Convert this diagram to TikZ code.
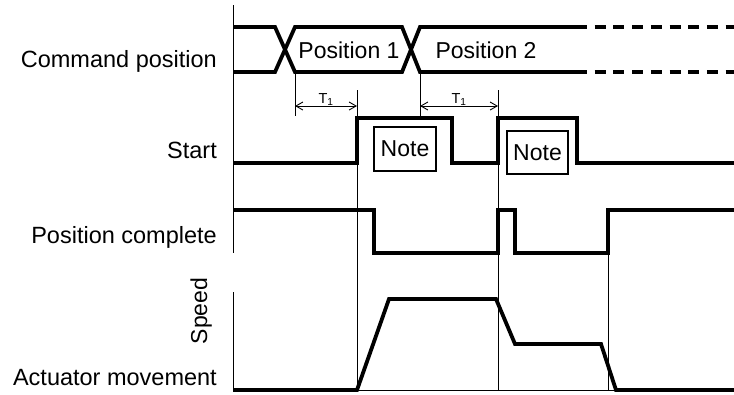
\documentclass[tikz,border=0pt]{standalone}
\usepackage{fontspec}
\setmainfont{Liberation Sans}
\usetikzlibrary{arrows.meta}
\tikzset{
  lab/.style={font=\fontsize{23.5}{28}\selectfont, anchor=base east, inner sep=0pt},
  txt/.style={font=\fontsize{23}{27}\selectfont, anchor=base, inner sep=0pt},
  sig/.style={line width=3.8pt, line cap=butt, line join=miter},
  sigdash/.style={line width=3.4pt, dash pattern=on 11pt off 7.7pt},
  guide/.style={line width=0.9pt},
  notebox/.style={draw, line width=1.2pt, minimum width=62pt, minimum height=44pt,
                  inner sep=0pt, font=\fontsize{23}{27}\selectfont},
  dim/.style={{Straight Barb[length=7pt,width=8pt]}-{Straight Barb[length=7pt,width=8pt]},
              line width=0.9pt},
  tlab/.style={font=\fontsize{14.5}{17}\selectfont, anchor=base, inner sep=0pt, yshift=3pt}
}
\begin{document}
\begin{tikzpicture}[x=1pt, y=-1pt]
  \useasboundingbox (0,0) rectangle (734,394);
  \node[lab] (cmd) at (217,67) {Command position};
  \node[lab] (start) at (217,158) {Start};
  \node[lab] (pcomp) at (217,243) {Position complete};
  \node[lab] (act) at (217,385) {Actuator movement};
  \node[txt, rotate=90] (speed) at (207,311) {Speed};
  \draw[guide] (233,5) -- (233,253);
  \draw[guide] (233,292) -- (233,390) -- (734,390);
  \draw[sig] (233,27) -- (275,27) -- (295,72) -- (402,72) -- (420,27) -- (576,27);
  \draw[sig] (233,72) -- (275,72) -- (295,27) -- (402,27) -- (420,72) -- (576,72);
  \draw[sigdash] (576,27) -- (734,27) (576,72) -- (734,72);
  \node[txt] (pos1) at (349,58) {Position 1};
  \node[txt] (pos2) at (486,58) {Position 2};
  \draw[sig] (233,163) -| (357,118) -| (452,163) -| (498,118) -| (577,163) -- (734,163);
  \draw[sig] (233,210) -| (374,253) -| (498,210) -| (515,253) -| (608,210) -- (734,210);
  \draw[sig] (233,390) -- (357,390) -- (389,299) -- (496,299) -- (515,344)
    -- (601,344) -- (616,390) -- (734,390);
  \foreach \x/\ya/\yb in {295/72/116, 357/90/390, 420/72/116, 498/90/390, 608/253/390}
    \draw[guide] (\x,\ya) -- (\x,\yb);
  \coordinate (t1a) at (295,106);
  \coordinate (t1b) at (357,106);
  \coordinate (t2a) at (420,106);
  \coordinate (t2b) at (498,106);
  \draw[dim] (t1a) -- node[tlab] (tt1) {T\textsubscript{1}} (t1b);
  \draw[dim] (t2a) -- node[tlab] (tt2) {T\textsubscript{1}} (t2b);
  \node[notebox] (note1) at (405,149) {Note};
  \node[notebox, minimum width=61pt, minimum height=43pt] (note2) at (537.5,152.5) {Note};
\end{tikzpicture}
\end{document}
